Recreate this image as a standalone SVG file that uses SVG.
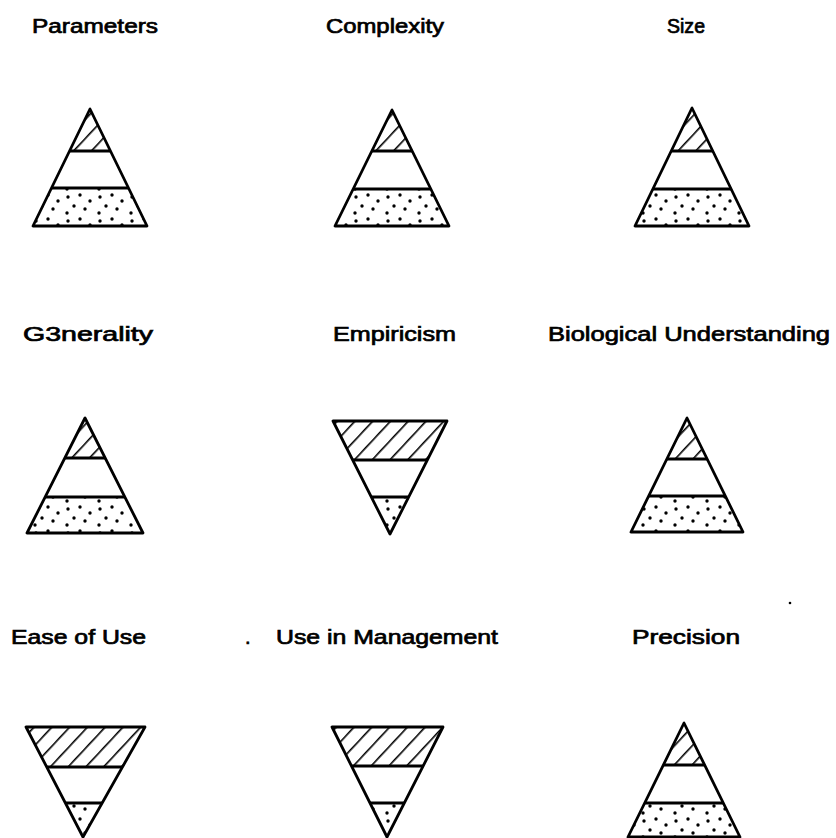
<svg xmlns="http://www.w3.org/2000/svg" width="836" height="838" viewBox="0 0 836 838">
<style>
.lbl{font-family:"Liberation Sans","DejaVu Sans",Arial,sans-serif;font-size:20px;fill:#000;stroke:#000;stroke-width:0.7}
.out{fill:none;stroke:#000;stroke-width:2.8;stroke-linejoin:round}
.div{stroke:#000;stroke-width:2.8}
.hat{fill:url(#hatch);stroke:none}
.dot{fill:url(#dots);stroke:none}
</style>
<defs>
<pattern id="hatch" patternUnits="userSpaceOnUse" width="13" height="13" patternTransform="rotate(43)">
<rect width="13" height="13" fill="#fff"/>
<line x1="0" y1="0" x2="0" y2="13" stroke="#000" stroke-width="3.2"/>
</pattern>
<pattern id="dots" patternUnits="userSpaceOnUse" width="32" height="24">
<rect width="32" height="24" fill="#fff"/>
<circle cx="4" cy="5" r="1.7" fill="#000"/>
<circle cx="16" cy="3" r="1.7" fill="#000"/>
<circle cx="26" cy="9" r="1.7" fill="#000"/>
<circle cx="10" cy="14" r="1.7" fill="#000"/>
<circle cx="21" cy="17" r="1.7" fill="#000"/>
<circle cx="3" cy="21" r="1.7" fill="#000"/>
</pattern>
</defs>
<rect width="836" height="838" fill="#fff"/>

<g id="parameters">
<text class="lbl" x="32" y="33" textLength="126" lengthAdjust="spacingAndGlyphs">Parameters</text>
<polygon class="hat" points="90,109 69.5,151 110.5,151"/>
<polygon class="dot" points="51.5,188 128.5,188 147,226 33,226"/>
<polygon class="out" points="90,109 33,226 147,226"/>
<line class="div" x1="69.5" y1="151" x2="110.5" y2="151"/>
<line class="div" x1="51.5" y1="188" x2="128.5" y2="188"/>
</g>

<g id="complexity">
<text class="lbl" x="326" y="33" textLength="118" lengthAdjust="spacingAndGlyphs">Complexity</text>
<polygon class="hat" points="392,110 371.9,151 412.1,151"/>
<polygon class="dot" points="353.2,189 430.8,189 449,226 335,226"/>
<polygon class="out" points="392,110 335,226 449,226"/>
<line class="div" x1="371.9" y1="151" x2="412.1" y2="151"/>
<line class="div" x1="353.2" y1="189" x2="430.8" y2="189"/>
</g>

<g id="size">
<text class="lbl" x="667" y="33" textLength="38" lengthAdjust="spacingAndGlyphs">Size</text>
<polygon class="hat" points="692,108 671.2,151 712.8,151"/>
<polygon class="dot" points="652.9,189 731.1,189 749,226 635,226"/>
<polygon class="out" points="692,108 635,226 749,226"/>
<line class="div" x1="671.2" y1="151" x2="712.8" y2="151"/>
<line class="div" x1="652.9" y1="189" x2="731.1" y2="189"/>
</g>

<g id="generality">
<text class="lbl" x="23" y="341" textLength="130" lengthAdjust="spacingAndGlyphs">G3nerality</text>
<polygon class="hat" points="85,418 64.8,458 105.2,458"/>
<polygon class="dot" points="45.2,497 124.8,497 143,533 27,533"/>
<polygon class="out" points="85,418 27,533 143,533"/>
<line class="div" x1="64.8" y1="458" x2="105.2" y2="458"/>
<line class="div" x1="45.2" y1="497" x2="124.8" y2="497"/>
</g>

<g id="empiricism">
<text class="lbl" x="333" y="341" textLength="123" lengthAdjust="spacingAndGlyphs">Empiricism</text>
<polygon class="hat" points="333,421 447,421 427.3,460 352.7,460"/>
<polygon class="dot" points="371.3,497 408.6,497 390,534"/>
<polygon class="out" points="333,421 447,421 390,534"/>
<line class="div" x1="352.7" y1="460" x2="427.3" y2="460"/>
<line class="div" x1="371.3" y1="497" x2="408.6" y2="497"/>
</g>

<g id="biological-understanding">
<text class="lbl" x="548" y="341" textLength="282" lengthAdjust="spacingAndGlyphs">Biological Understanding</text>
<polygon class="hat" points="687,418 666.9,459 707.1,459"/>
<polygon class="dot" points="648.7,496 725.3,496 743,532 631,532"/>
<polygon class="out" points="687,418 631,532 743,532"/>
<line class="div" x1="666.9" y1="459" x2="707.1" y2="459"/>
<line class="div" x1="648.7" y1="496" x2="725.3" y2="496"/>
<circle cx="790" cy="603" r="1.3" fill="#000"/>
</g>

<g id="ease-of-use">
<text class="lbl" x="11" y="644" textLength="135" lengthAdjust="spacingAndGlyphs">Ease of Use</text>
<polygon class="hat" points="26,727 145,727 122.4,767 46.7,767"/>
<polygon class="dot" points="65.4,803 102.2,803 83,837"/>
<polygon class="out" points="26,727 145,727 83,837"/>
<line class="div" x1="46.7" y1="767" x2="122.4" y2="767"/>
<line class="div" x1="65.4" y1="803" x2="102.2" y2="803"/>
</g>

<g id="use-in-management">
<text class="lbl" x="245" y="644">.</text>
<text class="lbl" x="276" y="644" textLength="222" lengthAdjust="spacingAndGlyphs">Use in Management</text>
<polygon class="hat" points="332,727 443,727 423.1,766 351.5,766"/>
<polygon class="dot" points="370,803 404.3,803 387,837"/>
<polygon class="out" points="332,727 443,727 387,837"/>
<line class="div" x1="351.5" y1="766" x2="423.1" y2="766"/>
<line class="div" x1="370" y1="803" x2="404.3" y2="803"/>
</g>

<g id="precision">
<text class="lbl" x="632" y="644" textLength="108" lengthAdjust="spacingAndGlyphs">Precision</text>
<polygon class="hat" points="684,723 663.4,765 704.6,765"/>
<polygon class="dot" points="644.7,803 723.3,803 740,837 628,837"/>
<polygon class="out" points="684,723 628,837 740,837"/>
<line class="div" x1="663.4" y1="765" x2="704.6" y2="765"/>
<line class="div" x1="644.7" y1="803" x2="723.3" y2="803"/>
</g>

<g id="connectors"></g>
</svg>
